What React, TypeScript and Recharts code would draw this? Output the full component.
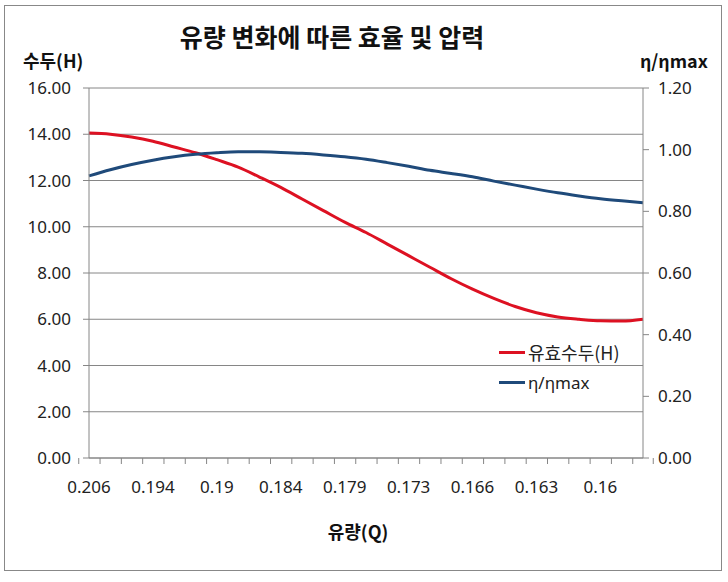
import React from 'react';
import { LineChart, Line, XAxis, YAxis, CartesianGrid, Legend } from 'recharts';

const flowLabels = [
  '0.206', '0.202', '0.198', '0.194', '0.193', '0.191', '0.19', '0.188', '0.186',
  '0.184', '0.182', '0.181', '0.179', '0.177', '0.175', '0.173', '0.171', '0.168',
  '0.166', '0.165', '0.164', '0.163', '0.162', '0.161', '0.16', '0.159', '0.158',
];
const headValues = [
  14.05, 14.0, 13.88, 13.7, 13.45, 13.2, 12.9, 12.58, 12.15,
  11.7, 11.2, 10.7, 10.2, 9.75, 9.25, 8.75, 8.25, 7.75,
  7.3, 6.9, 6.55, 6.28, 6.1, 6.0, 5.93, 5.92, 6.0,
];
const effValues = [
  0.915, 0.935, 0.952, 0.966, 0.977, 0.985, 0.99, 0.993, 0.993,
  0.991, 0.988, 0.983, 0.977, 0.969, 0.958, 0.946, 0.933, 0.923,
  0.912, 0.898, 0.885, 0.872, 0.86, 0.85, 0.841, 0.834, 0.828,
];
const leftTicks = [0, 2, 4, 6, 8, 10, 12, 14, 16];
const rightTicks = [0, 0.2, 0.4, 0.6, 0.8, 1.0, 1.2];

const data = flowLabels.map((q, i) => ({ q, head: headValues[i], eff: effValues[i] }));

const W = 728;
const H = 582;
const LEFT_W = 89;
const RIGHT_W = 85;
const PLOT_W = W - LEFT_W - RIGHT_W;
const BAND = PLOT_W / flowLabels.length;
const AXIS_COLOR = '#868686';
const FONT = '"Noto Sans", "Noto Sans CJK KR", sans-serif';
const KFONT = '"Noto Sans CJK KR", sans-serif';

const XTick = (props: any) => {
  const { x, y, payload, index } = props;
  const i = typeof index === 'number' ? index : payload.index;
  const showLabel = i % 3 === 0;
  return (
    <g>
      <line x1={x - BAND / 2} x2={x - BAND / 2} y1={y - 8} y2={y - 2} stroke={AXIS_COLOR} />
      {i === flowLabels.length - 1 && (
        <line x1={x + BAND / 2} x2={x + BAND / 2} y1={y - 8} y2={y - 2} stroke={AXIS_COLOR} />
      )}
      {showLabel && (
        <text x={x} y={y + 27} textAnchor="middle" fontSize={17} fill="#222" fontFamily={FONT}>
          {payload.value}
        </text>
      )}
    </g>
  );
};

const LegendContent = () => (
  <div style={{ fontFamily: FONT, fontSize: 17, color: '#222' }}>
    <div style={{ display: 'flex', alignItems: 'center', height: 30 }}>
      <span style={{ display: 'inline-block', width: 26, height: 3, background: '#DD1122', marginRight: 3 }} />
      <span style={{ fontFamily: KFONT, fontSize: 18 }}>유효수두(H)</span>
    </div>
    <div style={{ display: 'flex', alignItems: 'center', height: 30 }}>
      <span style={{ display: 'inline-block', width: 26, height: 3, background: '#1F4A7A', marginRight: 3 }} />
      <span>η/ηmax</span>
    </div>
  </div>
);

export default function App() {
  return (
    <div style={{ position: 'absolute', left: 0, top: 0, width: W, height: H, background: '#fff' }}>
      <div
        style={{
          position: 'absolute', left: 4, top: 5, width: 718, height: 566,
          border: '1px solid #888', boxSizing: 'border-box',
        }}
      />
      <LineChart width={W} height={H} data={data} margin={{ top: 88, right: 0, bottom: 94, left: 0 }}>
        <CartesianGrid yAxisId="left" vertical={false} stroke={AXIS_COLOR} strokeWidth={1} />
        <XAxis
          dataKey="q"
          interval={0}
          height={30}
          tickLine={false}
          stroke={AXIS_COLOR}
          tick={<XTick />}
        />
        <YAxis
          yAxisId="left"
          orientation="left"
          width={LEFT_W}
          domain={[0, 16]}
          ticks={leftTicks}
          tickFormatter={(v: number) => v.toFixed(2)}
          stroke={AXIS_COLOR}
          tickSize={6}
          tick={{ fill: '#222', fontSize: 17, fontFamily: FONT }}
          tickMargin={12}
        />
        <YAxis
          yAxisId="right"
          orientation="right"
          width={RIGHT_W}
          domain={[0, 1.2]}
          ticks={rightTicks}
          tickFormatter={(v: number) => v.toFixed(2)}
          stroke={AXIS_COLOR}
          tickSize={6}
          tick={{ fill: '#222', fontSize: 17, fontFamily: FONT }}
          tickMargin={9}
        />
        <Legend
          layout="vertical"
          verticalAlign="middle"
          align="center"
          wrapperStyle={{ left: 499, top: 337, width: 160 }}
          content={<LegendContent />}
        />
        <Line
          yAxisId="left"
          dataKey="head"
          name="유효수두(H)"
          type="monotone"
          stroke="#DD1122"
          strokeWidth={3}
          dot={false}
          isAnimationActive={false}
        />
        <Line
          yAxisId="right"
          dataKey="eff"
          name="η/ηmax"
          type="monotone"
          stroke="#1F4A7A"
          strokeWidth={3}
          dot={false}
          isAnimationActive={false}
        />
      </LineChart>
      <div
        style={{
          position: 'absolute', left: 0, width: 664, top: 18, textAlign: 'center',
          fontFamily: KFONT, fontWeight: 700, fontSize: 25, color: '#111',
        }}
      >
        유량 변화에 따른 효율 및 압력
      </div>
      <div
        style={{
          position: 'absolute', left: 23, top: 47,
          fontFamily: KFONT, fontWeight: 700, fontSize: 18, color: '#111',
        }}
      >
        수두(H)
      </div>
      <div
        style={{
          position: 'absolute', left: 640, top: 47,
          fontFamily: KFONT, fontWeight: 700, fontSize: 18, color: '#111',
        }}
      >
        η/ηmax
      </div>
      <div
        style={{
          position: 'absolute', left: 258, width: 200, top: 518, textAlign: 'center',
          fontFamily: KFONT, fontWeight: 700, fontSize: 18, color: '#111',
        }}
      >
        유량(Q)
      </div>
    </div>
  );
}
